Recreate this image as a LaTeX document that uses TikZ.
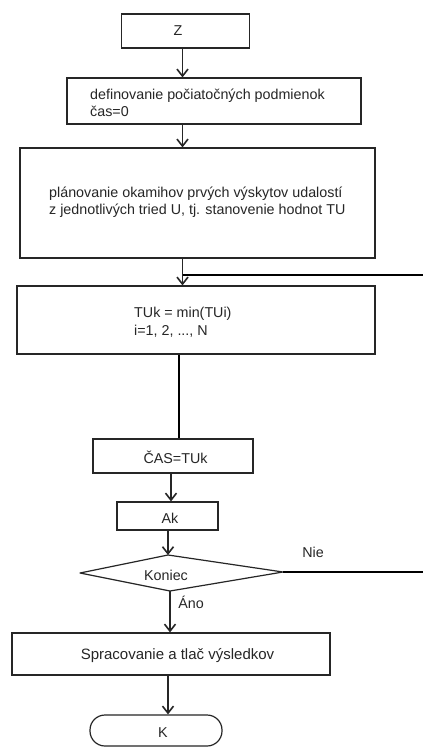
\documentclass[tikz,border=0pt]{standalone}
\usepackage{fontspec}
\setmainfont{Liberation Sans}
\usetikzlibrary{arrows.meta}
\definecolor{ink}{HTML}{262626}
\begin{document}
\begin{tikzpicture}[x=1pt,y=-1pt,
  every node/.style={font=\fontsize{14.3}{17.5}\selectfont, text=ink, inner sep=0pt},
  box/.style={draw=ink, line width=1.2pt, rectangle},
  txt/.style={anchor=west, align=left},
  outline/.style={draw=ink, line width=1.2pt, line join=round},
  arr/.style={draw=ink, line width=1.8pt, -{Straight Barb[length=7pt,width=11pt,line width=1.6pt]}},
  heavy/.style={draw=black, line width=2.8pt}]
  \useasboundingbox[fill=white] (0,0) rectangle (423,751);

  % process boxes and their texts
  \node[box, minimum width=128pt, minimum height=34pt] (z) at (185.5,31) {};
  \node (ztxt) at (178,31) {Z};
  \node[box, minimum width=294pt, minimum height=46pt] (def) at (214,101) {};
  \node[txt] (deftxt) at (90,103) {definovanie počiatočných podmienok\\čas=0};
  \node[box, minimum width=355pt, minimum height=110pt] (plan) at (197.5,203) {};
  \node[txt] (plantxt) at (49,202) {plánovanie okamihov prvých výskytov udalostí\\z jednotlivých tried U, tj. stanovenie hodnot TU};
  \node[box, minimum width=358pt, minimum height=68pt] (tuk) at (196,320) {};
  \node[txt] (tuktxt) at (134,322) {TUk = min(TUi)\\i=1, 2, ..., N};
  \node[box, minimum width=160pt, minimum height=34pt] (cas) at (173,456) {};
  \node (castxt) at (175.5,457) {ČAS=TUk};
  \node[box, minimum width=101pt, minimum height=28pt] (ak) at (167.5,516) {};
  \node (aktxt) at (170,518) {Ak};
  \node[box, minimum width=318pt, minimum height=42pt] (spr) at (171,654) {};
  \node[font=\fontsize{15}{18}\selectfont] (sprtxt) at (177.5,656) {Spracovanie a tlač výsledkov};
  \node[box, rounded corners=15pt, minimum width=132pt, minimum height=31pt] (k) at (156,730.5) {};
  \node (ktxt) at (163,733) {K};

  % decision: a slightly lopsided diamond
  \coordinate (kl) at (80,573);
  \coordinate (kt) at (168,555);
  \coordinate (kr) at (283,572);
  \coordinate (kb) at (170,591);
  \draw[outline] (kl) -- (kt) -- (kr) -- (kb) -- cycle;
  \node (kon) at (166,575) {Koniec};

  % connector columns and loop-back ends
  \coordinate (c1) at (182.5,0);
  \coordinate (c2) at (179,0);
  \coordinate (c3) at (171,0);
  \coordinate (c5) at (168,0);
  \coordinate (j1) at (182.5,275);
  \coordinate (r1) at (423,275);
  \coordinate (r2) at (423,572);

  % connectors
  \draw[arr] (c1 |- z.south) -- (c1 |- def.north);
  \draw[arr] (c1 |- def.south) -- (c1 |- plan.north);
  \draw[arr] (c1 |- plan.south) -- (c1 |- tuk.north);
  \draw[heavy] (j1) -- (r1);
  \draw[heavy] (c2 |- tuk.south) -- (c2 |- cas.north);
  \draw[arr, line width=2.6pt] (c3 |- cas.south) -- (c3 |- ak.north);
  \draw[arr] (kt |- ak.south) -- (kt);
  \draw[heavy] (kr) -- (r2);
  \draw[arr] (kb) -- (kb |- spr.north);
  \draw[arr] (c5 |- spr.south) -- (c5 |- k.north);

  % branch labels
  \node (nie) at (313,552) {Nie};
  \node (ano) at (191,602) {Áno};
\end{tikzpicture}
\end{document}
